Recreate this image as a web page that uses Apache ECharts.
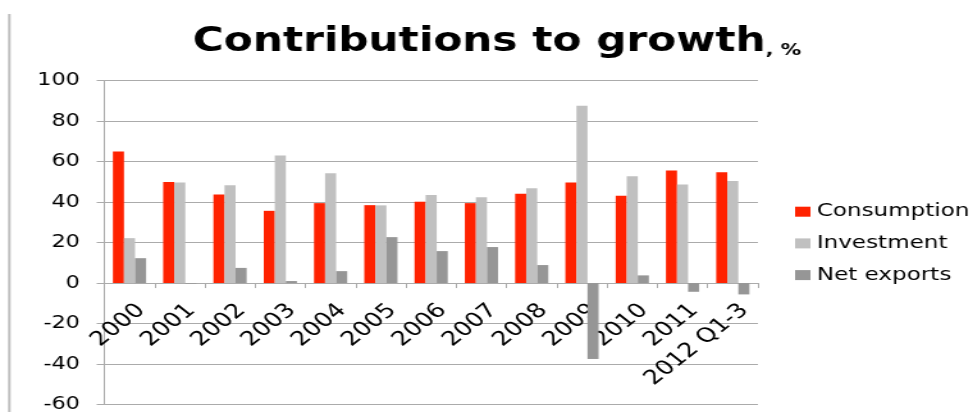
<!DOCTYPE html>
<html>
<head>
<meta charset="utf-8">
<title>Contributions to growth, %</title>
<script src="https://cdn.jsdelivr.net/npm/echarts@6/dist/echarts.min.js"></script>
<style>
  html, body { margin: 0; padding: 0; background: #fff; overflow: hidden; }
  /* the chart is laid out narrow and widened horizontally, giving the stretched look */
  #chart { width: 760px; height: 412px; transform: scaleX(1.2803); transform-origin: 0 0; }
</style>
</head>
<body>
<div id="chart"></div>
<script>
// Contributions of demand components to GDP growth, %
const categories = ['2000', '2001', '2002', '2003', '2004', '2005', '2006',
                    '2007', '2008', '2009', '2010', '2011', '2012 Q1-3'];
const consumption = [65.0, 50.0, 43.8, 35.7, 39.5, 38.5, 40.2, 39.5, 44.1, 49.7, 43.1, 55.6, 54.8];
const investment  = [22.2, 49.7, 48.4, 63.0, 54.3, 38.4, 43.5, 42.4, 46.9, 87.6, 52.8, 48.7, 50.4];
const netExports  = [12.3, -0.3, 7.5, 1.0, 5.9, 22.7, 15.8, 17.8, 8.9, -37.5, 3.8, -4.3, -5.6];
const yTicks = { min: -60, max: 100, step: 20 };

const FONT = '"DejaVu Sans", Verdana, sans-serif';
const GRID_GRAY = '#ABABAB';

// plot area geometry (in the unstretched layout)
const GRID = { left: 81.5, right: 168, top: 80.7, bottom: 7.5 };
const plotHeight = 412 - GRID.top - GRID.bottom;
// lift the category axis from the bottom edge up to the zero line
const zeroOffset = -plotHeight * (0 - yTicks.min) / (yTicks.max - yTicks.min);

const chart = echarts.init(document.getElementById('chart'), null, { renderer: 'canvas' });

chart.setOption({
  animation: false,
  backgroundColor: '#fff',
  title: {
    text: '{a|Contributions to growth}{b|, %}',
    left: 150.5,
    top: 25.8,
    padding: 0,
    textStyle: {
      rich: {
        a: { fontFamily: FONT, fontSize: 33, fontWeight: 'bold', color: '#000', lineHeight: 33, verticalAlign: 'bottom' },
        b: { fontFamily: FONT, fontSize: 16, color: '#000', lineHeight: 21, verticalAlign: 'bottom' }
      }
    }
  },
  legend: {
    orient: 'vertical',
    left: 621,
    top: 201.7,
    padding: 0,
    itemWidth: 12,
    itemHeight: 10,
    itemGap: 11.7,
    icon: 'rect',
    textStyle: { fontFamily: FONT, fontSize: 18, lineHeight: 20, color: '#000' },
    data: ['Consumption', 'Investment', 'Net exports']
  },
  graphic: [{
    type: 'line',
    shape: { x1: 7.3, y1: 14, x2: 7.3, y2: 412 },
    style: { stroke: '#BEBEBE', lineWidth: 2 },
    silent: true
  }],
  grid: Object.assign({ containLabel: false, outerBoundsMode: 'none' }, GRID),
  xAxis: {
    type: 'category',
    data: categories,
    boundaryGap: true,
    position: 'bottom',
    offset: zeroOffset,
    axisLine: { show: true, onZero: false, lineStyle: { color: GRID_GRAY, width: 1 } },
    axisTick: { show: true, length: 5, interval: 0, lineStyle: { color: GRID_GRAY } },
    axisLabel: {
      interval: 0,
      rotate: 45,
      margin: 15,
      verticalAlign: 'top',
      lineHeight: 26,
      fontFamily: FONT,
      fontSize: 20,
      color: '#000'
    },
    splitLine: { show: false }
  },
  yAxis: {
    type: 'value',
    min: yTicks.min,
    max: yTicks.max,
    interval: yTicks.step,
    axisLine: { show: true, lineStyle: { color: GRID_GRAY, width: 1 } },
    axisTick: { show: true, length: 6, lineStyle: { color: GRID_GRAY } },
    axisLabel: { margin: 19, fontFamily: FONT, fontSize: 17.5, color: '#000' },
    splitLine: { show: true, lineStyle: { color: GRID_GRAY, width: 1 } }
  },
  series: [
    { name: 'Consumption', type: 'bar', data: consumption, barGap: '0%', barCategoryGap: '34%',
      itemStyle: { color: '#FF2200' } },
    { name: 'Investment', type: 'bar', data: investment, barGap: '0%', barCategoryGap: '34%',
      itemStyle: { color: '#C0C0C0' } },
    { name: 'Net exports', type: 'bar', data: netExports, barGap: '0%', barCategoryGap: '34%',
      itemStyle: { color: '#969696' } }
  ]
});
</script>
</body>
</html>
